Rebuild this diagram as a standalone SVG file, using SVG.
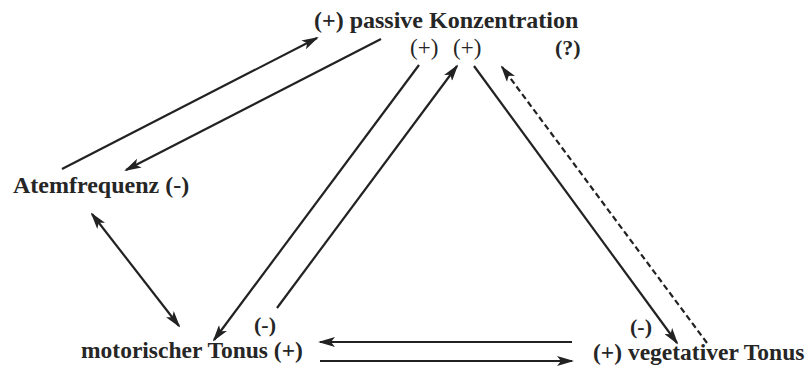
<svg xmlns="http://www.w3.org/2000/svg" width="807" height="367" viewBox="0 0 807 367">
<style>
.t{font-family:"Liberation Serif","Times New Roman",serif;fill:#262626}
.b{font-weight:bold}
.c{stroke:#222;stroke-width:2.2;fill:none}
.d{stroke-dasharray:6,3.5}
</style>
<defs>
<marker id="ah" viewBox="0 0 17 10" refX="15" refY="5" markerWidth="17" markerHeight="10" markerUnits="userSpaceOnUse" orient="auto-start-reverse">
<path d="M0,0 L17,5 L0,10 L4,5 z" fill="#222"/>
</marker>
</defs>
<rect width="807" height="367" fill="#fff"/>
<g id="connectors">
<line class="c" x1="62" y1="169" x2="317" y2="38" marker-end="url(#ah)"/>
<line class="c" x1="381" y1="39" x2="126" y2="170" marker-end="url(#ah)"/>
<line class="c" x1="92" y1="214" x2="179" y2="326" marker-start="url(#ah)" marker-end="url(#ah)"/>
<line class="c" x1="419" y1="65" x2="214" y2="340" marker-end="url(#ah)"/>
<line class="c" x1="277" y1="308" x2="457" y2="66" marker-end="url(#ah)"/>
<line class="c" x1="474" y1="66" x2="677" y2="343" marker-end="url(#ah)"/>
<line class="c d" x1="707" y1="343" x2="502" y2="67" marker-end="url(#ah)"/>
<line class="c" x1="572" y1="342" x2="320" y2="342" marker-end="url(#ah)"/>
<line class="c" x1="320" y1="361" x2="572" y2="361" marker-end="url(#ah)"/>
</g>
<g id="passive">
<text class="t b" x="314" y="28" font-size="24">(+) passive Konzentration</text>
<text class="t" x="410" y="55" font-size="23">(+)</text>
<text class="t" x="453" y="55" font-size="23">(+)</text>
<text class="t b" x="555" y="55" font-size="22">(?)</text>
</g>
<g id="atem">
<text class="t b" x="13" y="193" font-size="24">Atemfrequenz (-)</text>
</g>
<g id="motor">
<text class="t b" x="254" y="332" font-size="22">(-)</text>
<text class="t b" x="81" y="358" font-size="23.5">motorischer Tonus (+)</text>
</g>
<g id="vegetativ">
<text class="t b" x="630" y="334" font-size="22">(-)</text>
<text class="t b" x="593" y="360" font-size="23.5">(+) vegetativer Tonus</text>
</g>
</svg>
